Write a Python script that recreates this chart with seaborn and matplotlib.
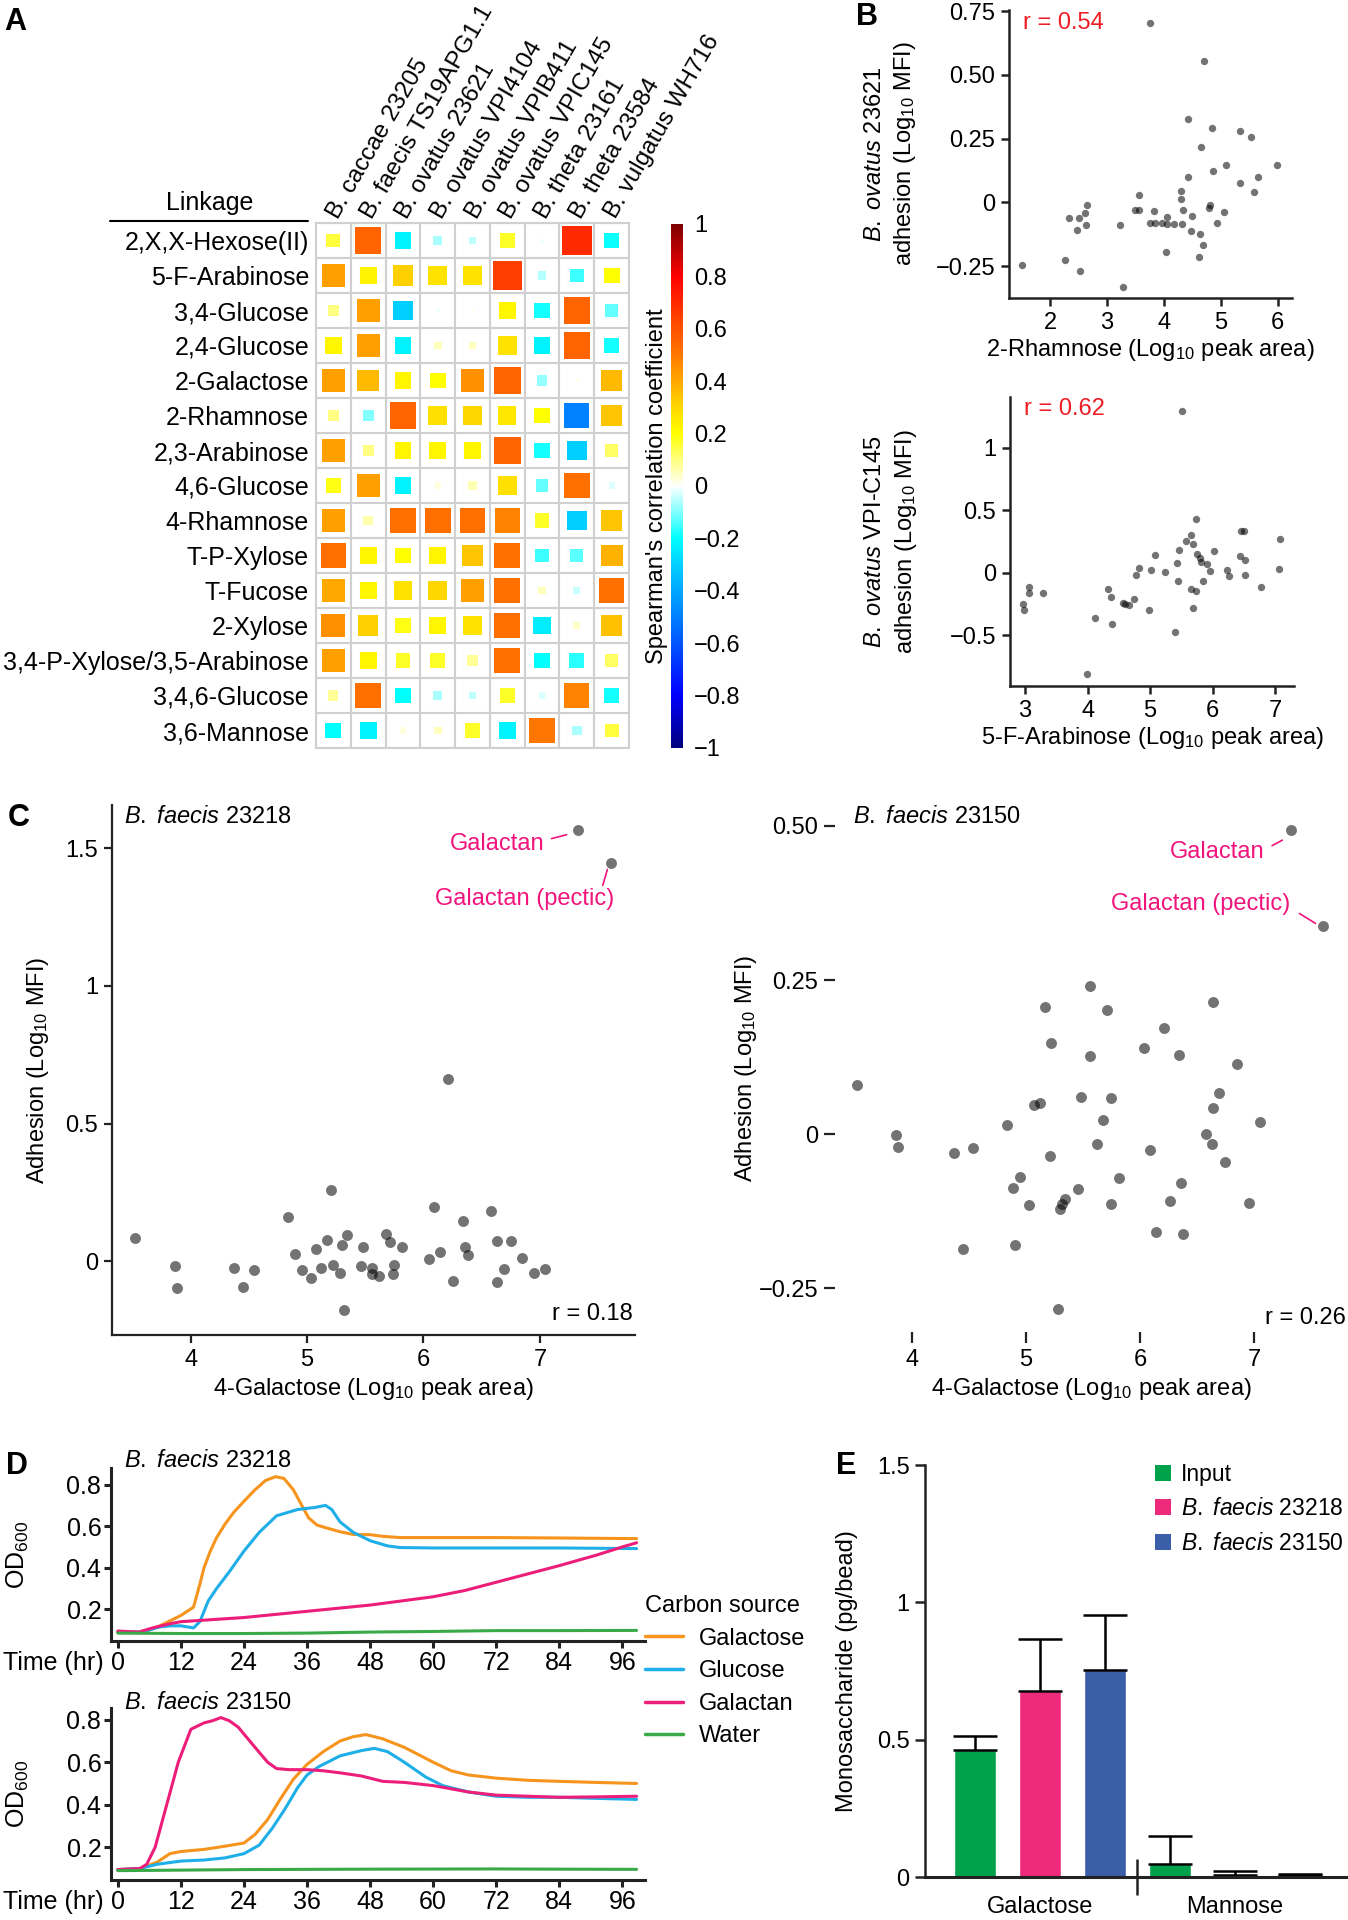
import numpy as np
import pandas as pd
import matplotlib
matplotlib.use("Agg")
import matplotlib.pyplot as plt
import seaborn as sns
from matplotlib.colors import LinearSegmentedColormap, Normalize
from matplotlib.lines import Line2D
from matplotlib.patches import Patch
import matplotlib.colorbar as mcolorbar

# ---------------- data: panel A ----------------
strains = ["B. caccae 23205", "B. faecis TS19APG1.1", "B. ovatus 23621", "B. ovatus VPI4104",
           "B. ovatus VPIB411", "B. ovatus VPIC145", "B. theta 23161", "B. theta 23584",
           "B. vulgatus WH716"]
linkages = ["2,X,X-Hexose(II)", "5-F-Arabinose", "3,4-Glucose", "2,4-Glucose", "2-Galactose",
            "2-Rhamnose", "2,3-Arabinose", "4,6-Glucose", "4-Rhamnose", "T-P-Xylose", "T-Fucose",
            "2-Xylose", "3,4-P-Xylose/3,5-Arabinose", "3,4,6-Glucose", "3,6-Mannose"]
spearman = [
    [0.15, 0.55, -0.22, -0.07, -0.05, 0.17, -0.01, 0.70, -0.19],
    [0.42, 0.23, 0.32, 0.27, 0.27, 0.65, -0.06, -0.15, 0.20],
    [0.10, 0.42, -0.30, -0.01, 0.01, 0.22, -0.18, 0.55, -0.12],
    [0.22, 0.42, -0.22, 0.05, 0.05, 0.27, -0.22, 0.55, -0.18],
    [0.42, 0.36, 0.22, 0.20, 0.45, 0.55, -0.08, 0.01, 0.36],
    [0.10, -0.10, 0.55, 0.28, 0.30, 0.26, 0.20, -0.50, 0.34],
    [0.42, 0.10, 0.22, 0.22, 0.22, 0.55, -0.18, -0.30, 0.12],
    [0.18, 0.42, -0.22, 0.03, 0.06, 0.28, -0.12, 0.52, -0.03],
    [0.42, 0.07, 0.52, 0.52, 0.52, 0.48, 0.17, -0.30, 0.34],
    [0.52, 0.22, 0.20, 0.22, 0.34, 0.52, -0.15, -0.13, 0.38],
    [0.40, 0.22, 0.27, 0.30, 0.42, 0.52, 0.05, -0.04, 0.52],
    [0.45, 0.32, 0.18, 0.22, 0.27, 0.52, -0.24, 0.04, 0.35],
    [0.42, 0.22, 0.17, 0.17, 0.08, 0.52, -0.20, -0.17, 0.12],
    [0.08, 0.52, -0.20, -0.07, -0.05, 0.17, -0.03, 0.48, -0.18],
    [-0.20, -0.22, 0.03, 0.05, 0.17, -0.22, 0.50, -0.07, 0.15],
]
cb_ticks = [-1, -0.8, -0.6, -0.4, -0.2, 0, 0.2, 0.4, 0.6, 0.8, 1]
cb_ticklabels = ["\u22121", "\u22120.8", "\u22120.6", "\u22120.4", "\u22120.2", "0",
                 "0.2", "0.4", "0.6", "0.8", "1"]

# ---------------- data: panel B ----------------
b1_x = [1.50, 3.75, 4.70, 4.43, 4.85, 5.34, 5.53, 4.66, 5.09, 5.99, 4.87, 4.42, 5.33, 5.65, 5.58,
        4.30, 3.57, 4.30, 4.81, 4.80, 2.65, 2.62, 2.34, 2.51, 2.47, 2.64, 3.23, 3.50, 3.57, 3.82,
        3.75, 3.84, 3.96, 4.05, 4.06, 4.18, 4.32, 4.33, 4.50, 4.48, 4.63, 4.69, 4.61, 4.03, 4.94,
        5.05, 2.27, 2.53, 3.29]
b1_y = [-0.245, 0.703, 0.556, 0.327, 0.291, 0.281, 0.255, 0.217, 0.148, 0.148, 0.122, 0.099, 0.077,
        0.099, 0.042, 0.045, 0.029, 0.014, -0.012, -0.020, -0.012, -0.043, -0.060, -0.060, -0.110,
        -0.090, -0.089, -0.031, -0.029, -0.035, -0.080, -0.081, -0.080, -0.056, -0.085, -0.084,
        -0.084, -0.031, -0.055, -0.114, -0.122, -0.168, -0.216, -0.196, -0.081, -0.037, -0.224,
        -0.268, -0.330]
b2_x = [5.51, 5.74, 6.50, 6.46, 5.65, 5.57, 5.69, 7.08, 5.46, 5.08, 6.02, 5.75, 6.44, 5.79, 5.81,
        5.91, 6.51, 5.43, 5.95, 6.23, 6.26, 6.51, 7.06, 4.82, 4.77, 5.01, 5.23, 5.44, 5.84, 5.65,
        5.73, 6.77, 5.69, 4.32, 4.37, 4.57, 4.60, 4.67, 4.75, 4.98, 4.12, 4.39, 5.40, 3.99, 2.96,
        2.98, 3.07, 3.06, 3.29]
b2_y = [1.29, 0.426, 0.335, 0.330, 0.298, 0.255, 0.234, 0.266, 0.184, 0.141, 0.173, 0.149, 0.133,
        0.122, 0.088, 0.067, 0.101, 0.082, 0.011, 0.019, -0.024, -0.016, 0.029, 0.035, -0.016,
        0.021, 0.005, -0.069, -0.069, -0.133, -0.144, -0.114, -0.282, -0.130, -0.194, -0.239,
        -0.247, -0.255, -0.213, -0.295, -0.362, -0.407, -0.471, -0.806, -0.253, -0.295, -0.114,
        -0.160, -0.160]

# ---------------- data: panel C ----------------
c1_x = [7.324, 7.607, 6.21, 5.21, 4.834, 6.09, 6.58, 6.34, 3.525, 5.17, 5.34, 5.68, 5.71, 5.30,
        5.48, 5.82, 5.08, 4.90, 6.14, 6.36, 6.38, 6.63, 6.75, 6.05, 6.85, 3.87, 4.37, 4.545, 4.96,
        5.12, 5.22, 5.46, 5.56, 5.75, 6.69, 7.04, 5.03, 5.28, 5.56, 5.62, 5.74, 6.95, 6.25, 6.63,
        3.88, 4.45, 5.32]
c1_y = [1.567, 1.448, 0.663, 0.26, 0.16, 0.196, 0.182, 0.146, 0.083, 0.078, 0.096, 0.099, 0.068,
        0.058, 0.050, 0.051, 0.043, 0.026, 0.035, 0.051, 0.021, 0.074, 0.074, 0.007, 0.013, -0.017,
        -0.025, -0.031, -0.031, -0.025, -0.014, -0.019, -0.024, -0.015, -0.028, -0.029, -0.061,
        -0.042, -0.047, -0.053, -0.046, -0.044, -0.071, -0.076, -0.096, -0.093, -0.179]
c2_x = [7.328, 7.609, 5.56, 6.64, 5.17, 5.71, 6.21, 5.22, 6.04, 5.56, 6.34, 6.85, 3.52, 5.48, 5.75,
        6.69, 5.07, 5.12, 6.64, 5.68, 7.05, 4.83, 3.86, 6.58, 3.88, 4.37, 4.54, 5.62, 6.09, 6.63,
        5.21, 6.75, 4.95, 4.89, 5.82, 6.36, 5.46, 5.34, 5.32, 5.30, 5.03, 5.75, 6.26, 6.96, 6.14,
        6.38, 4.90, 4.45, 5.28]
c2_y = [0.494, 0.338, 0.241, 0.215, 0.206, 0.202, 0.173, 0.148, 0.139, 0.126, 0.128, 0.113, 0.080,
        0.061, 0.059, 0.066, 0.048, 0.051, 0.043, 0.023, 0.020, 0.015, -0.001, 0.001, -0.021,
        -0.030, -0.022, -0.016, -0.025, -0.016, -0.035, -0.045, -0.070, -0.087, -0.071, -0.079,
        -0.089, -0.105, -0.113, -0.121, -0.115, -0.113, -0.108, -0.112, -0.158, -0.162, -0.180,
        -0.186, -0.284]

# ---------------- data: panel D ----------------
sources = ["Galactose", "Glucose", "Galactan", "Water"]
d1_galactose_t = [0, 4, 6, 8, 10, 12, 14.4, 15.6, 16.4, 17.6, 18.8, 20.4, 22, 24, 26.1, 28.1, 30,
                  31.6, 33.4, 35, 36.3, 37.9, 39.9, 42.3, 44.8, 48, 50.4, 53.7, 60, 72, 84, 98.7]
d1_galactose_od = [0.09, 0.09, 0.10, 0.12, 0.145, 0.17, 0.21, 0.32, 0.40, 0.48, 0.545, 0.61,
                   0.665, 0.72, 0.775, 0.82, 0.838, 0.83, 0.775, 0.70, 0.64, 0.605, 0.59, 0.573,
                   0.56, 0.559, 0.551, 0.545, 0.545, 0.545, 0.543, 0.54]
d1_glucose_t = [0, 4, 6, 8, 10, 12, 14.4, 15.6, 17.2, 18.8, 21.2, 24, 26.9, 30.2, 34.2, 37.5, 39.5,
                40.7, 42.3, 44.8, 48, 51.3, 53.7, 60, 72, 84, 98.7]
d1_glucose_od = [0.09, 0.09, 0.10, 0.115, 0.12, 0.12, 0.11, 0.14, 0.24, 0.30, 0.38, 0.48, 0.57,
                 0.65, 0.68, 0.69, 0.70, 0.68, 0.62, 0.57, 0.53, 0.505, 0.497, 0.495, 0.495,
                 0.495, 0.492]
d1_galactan_t = [0, 4, 6.6, 9.9, 12, 18, 24, 30, 36, 42, 48, 54, 60, 66, 72, 78, 84, 91, 96, 98.7]
d1_galactan_od = [0.095, 0.09, 0.11, 0.13, 0.14, 0.15, 0.16, 0.175, 0.19, 0.205, 0.22, 0.24, 0.26,
                  0.29, 0.33, 0.37, 0.41, 0.46, 0.50, 0.52]
d1_water_t = [0, 12, 24, 36, 48, 60, 72, 84, 98.7]
d1_water_od = [0.085, 0.083, 0.083, 0.085, 0.09, 0.093, 0.097, 0.097, 0.098]

d2_galactose_t = [0, 4.2, 7.5, 9.9, 12, 16.4, 20.4, 24, 26.1, 28.5, 31, 33.4, 36, 39.1, 42.3, 44.8,
                  47.2, 50.4, 54.5, 60, 63.4, 66.7, 72, 78, 84, 91, 98.7]
d2_galactose_od = [0.095, 0.10, 0.13, 0.17, 0.18, 0.19, 0.205, 0.22, 0.26, 0.33, 0.43, 0.52, 0.59,
                   0.65, 0.70, 0.72, 0.73, 0.71, 0.67, 0.60, 0.56, 0.54, 0.525, 0.515, 0.51, 0.505,
                   0.50]
d2_glucose_t = [0, 4.2, 7.5, 12, 16.4, 20.4, 24, 26.9, 29.4, 31.8, 34.2, 36, 38.3, 42.3, 46.4, 48.8,
                51.3, 54.5, 58.6, 61.8, 66.7, 72, 78, 84, 91, 98.7]
d2_glucose_od = [0.095, 0.10, 0.12, 0.135, 0.14, 0.15, 0.17, 0.21, 0.29, 0.38, 0.48, 0.54, 0.58,
                 0.63, 0.655, 0.665, 0.65, 0.60, 0.53, 0.49, 0.46, 0.44, 0.435, 0.435, 0.43, 0.425]
d2_galactan_t = [0, 4.2, 5.5, 7.1, 9.3, 11.5, 13.9, 16.4, 18, 19.6, 21.2, 22.9, 26.1, 28.5, 30.2,
                 32.6, 36, 39, 42.3, 46.4, 50.4, 54.5, 60, 63.4, 66.7, 72, 78, 84, 91, 98.7]
d2_galactan_od = [0.095, 0.10, 0.12, 0.20, 0.40, 0.60, 0.755, 0.785, 0.795, 0.81, 0.795, 0.765,
                  0.67, 0.60, 0.57, 0.565, 0.565, 0.56, 0.55, 0.535, 0.51, 0.505, 0.49, 0.475,
                  0.46, 0.445, 0.44, 0.435, 0.437, 0.44]
d2_water_t = [0, 24, 48, 72, 84, 98.7]
d2_water_od = [0.09, 0.095, 0.097, 0.098, 0.097, 0.096]
d_xticks = [0, 12, 24, 36, 48, 60, 72, 84, 96]
d_yticks = [0.2, 0.4, 0.6, 0.8]

# ---------------- data: panel E ----------------
e_sugar = ["Galactose", "Galactose", "Galactose", "Mannose", "Mannose", "Mannose"]
e_sample = ["Input", "B. faecis 23218", "B. faecis 23150"] * 2
e_mean = [0.463, 0.679, 0.754, 0.046, 0.008, 0.006]
e_err = [0.051, 0.186, 0.201, 0.102, 0.015, 0.004]

# ---------------- style ----------------
sns.set_theme(style="ticks")
plt.rcParams.update({
    "font.family": ["Liberation Sans", "DejaVu Sans"],
    "mathtext.fontset": "custom",
    "mathtext.rm": "Liberation Sans",
    "mathtext.it": "Liberation Sans:italic",
    "mathtext.bf": "Liberation Sans:bold",
    "axes.edgecolor": "#222222",
    "text.color": "black",
    "axes.labelcolor": "black",
    "xtick.color": "#222222",
    "ytick.color": "#222222",
    "xtick.labelcolor": "black",
    "ytick.labelcolor": "black",
})
FS = 17
PINK_TXT = "#f0147c"
NARROW = ["Liberation Sans Narrow", "Liberation Sans", "DejaVu Sans"]

W, H = 1348, 1920
fig = plt.figure(figsize=(W / 100, H / 100), dpi=100)


def rect(l, t, r, b):
    return [l / W, 1 - b / H, (r - l) / W, (b - t) / H]


def fx(px):
    return px / W


def fy(py):
    return 1 - py / H


def style_axis(ax, lw=1.8, tl=6, fs=16, pad=4):
    sns.despine(ax=ax)
    for s in ["left", "bottom"]:
        ax.spines[s].set_linewidth(lw)
    ax.tick_params(direction="out", length=tl, width=lw, labelsize=fs, pad=pad)


# ================= Panel A =================
cmap = LinearSegmentedColormap.from_list("spearman", [
    (0.00, "#00007F"), (0.10, "#0000FF"), (0.25, "#0080FF"), (0.35, "#00D0FF"),
    (0.40, "#00FFFF"), (0.50, "#FFFFFF"), (0.60, "#FFFF00"), (0.65, "#FFD800"),
    (0.71, "#FFA000"), (0.76, "#FF7000"), (0.825, "#FF4000"), (0.90, "#FF0000"),
    (1.00, "#7F0000")])

hm = pd.DataFrame(spearman, index=linkages, columns=strains)
long = hm.reset_index().melt(id_vars="index", var_name="strain", value_name="rho")
long["xi"] = long["strain"].map({s: i for i, s in enumerate(strains)})
long["yi"] = long["index"].map({s: i for i, s in enumerate(linkages)})
long["mag"] = long["rho"].abs()

axA = fig.add_axes(rect(316, 223, 629, 748))
sns.scatterplot(data=long, x="xi", y="yi", hue="rho", palette=cmap, hue_norm=(-1, 1),
                size="mag", sizes=(0, 660), size_norm=(0, 1), marker="s", linewidth=0,
                legend=False, ax=axA, zorder=3)
axA.set_xlim(-0.5, len(strains) - 0.5)
axA.set_ylim(len(linkages) - 0.5, -0.5)
axA.set_xticks(np.arange(-0.5, len(strains), 1), minor=True)
axA.set_yticks(np.arange(-0.5, len(linkages), 1), minor=True)
axA.set_xticks([])
axA.set_yticks(range(len(linkages)))
axA.set_yticklabels(linkages, fontsize=18)
axA.grid(True, which="minor", color="#d0d0d0", lw=1.5)
axA.grid(False, which="major")
axA.set_axisbelow(True)
axA.tick_params(which="both", length=0, pad=5)
axA.set_xlabel("")
axA.set_ylabel("")
for s in axA.spines.values():
    s.set_color("#d0d0d0")
    s.set_linewidth(1.5)
for j, s in enumerate(strains):
    axA.text(j + 0.12, -0.6, s, rotation=60, rotation_mode="anchor", ha="left",
             va="baseline", fontsize=17.5, clip_on=False)

fig.text(fx(210), fy(203), "Linkage", ha="center", va="center", fontsize=18)
fig.add_artist(Line2D([fx(110), fx(308)], [fy(221), fy(221)], transform=fig.transFigure,
                      color="black", lw=1.5))

axCB = fig.add_axes(rect(671, 224, 683, 748))
cb = mcolorbar.ColorbarBase(axCB, cmap=cmap, norm=Normalize(-1, 1), ticks=cb_ticks)
cb.set_ticklabels(cb_ticklabels)
cb.outline.set_visible(False)
axCB.tick_params(length=0, labelsize=FS, pad=8)
cb.set_label("Spearman's correlation coefficient", fontsize=FS, labelpad=2)
axCB.yaxis.set_label_position("left")

fig.text(fx(4), fy(22), "A", fontsize=22, fontweight="bold", va="center", ha="left")

# ================= Panel B =================
axB1 = fig.add_axes(rect(1009, 10, 1292, 298))
sns.scatterplot(x=b1_x, y=b1_y, color="black", alpha=0.55, s=28, linewidth=0, ax=axB1)
axB1.set_xlim(1.28, 6.25)
axB1.set_ylim(-0.375, 0.755)
axB1.set_xticks([2, 3, 4, 5, 6])
axB1.set_yticks([-0.25, 0, 0.25, 0.5, 0.75])
axB1.set_yticklabels(["\u22120.25", "0", "0.25", "0.50", "0.75"])
style_axis(axB1, fs=17)
axB1.set_xlabel(r"2-Rhamnose (Log$_{10}$ peak area)", fontsize=FS, labelpad=2)
axB1.set_ylabel(r"$\mathit{B.\ ovatus}$ 23621" + "\n" + r"adhesion (Log$_{10}$ MFI)",
                fontsize=FS, linespacing=1.35)
axB1.yaxis.set_label_coords(-0.32, 0.5)
axB1.text(0.05, 0.955, "r = 0.54", color="#ee1c25", fontsize=FS, transform=axB1.transAxes,
          ha="left", va="center")

axB2 = fig.add_axes(rect(1010, 397, 1294, 686))
sns.scatterplot(x=b2_x, y=b2_y, color="black", alpha=0.55, s=28, linewidth=0, ax=axB2)
axB2.set_xlim(2.76, 7.30)
axB2.set_ylim(-0.904, 1.404)
axB2.set_xticks([3, 4, 5, 6, 7])
axB2.set_yticks([-0.5, 0, 0.5, 1])
axB2.set_yticklabels(["\u22120.5", "0", "0.5", "1"])
style_axis(axB2, fs=17)
axB2.set_xlabel(r"5-F-Arabinose (Log$_{10}$ peak area)", fontsize=FS, labelpad=2)
axB2.set_ylabel(r"$\mathit{B.\ ovatus}$ VPI-C145" + "\n" + r"adhesion (Log$_{10}$ MFI)",
                fontsize=FS, linespacing=1.35)
axB2.yaxis.set_label_coords(-0.32, 0.5)
axB2.text(0.05, 0.96, "r = 0.62", color="#ee1c25", fontsize=FS, transform=axB2.transAxes,
          ha="left", va="center")

fig.text(fx(856), fy(17), "B", fontsize=22, fontweight="bold", va="center", ha="left")

# ================= Panel C =================
axC1 = fig.add_axes(rect(112, 805, 635, 1335))
sns.scatterplot(x=c1_x, y=c1_y, color="black", alpha=0.55, s=62, linewidth=0, ax=axC1)
axC1.set_xlim(3.325, 7.817)
axC1.set_ylim(-0.268, 1.657)
axC1.set_xticks([4, 5, 6, 7])
axC1.set_yticks([0, 0.5, 1, 1.5])
axC1.set_yticklabels(["0", "0.5", "1", "1.5"])
style_axis(axC1, lw=1.6, tl=6, fs=FS)
axC1.set_xlabel(r"4-Galactose (Log$_{10}$ peak area)", fontsize=FS, labelpad=4)
axC1.set_ylabel(r"Adhesion (Log$_{10}$ MFI)", fontsize=FS, labelpad=10)
axC1.text(0.023, 0.977, r"$\mathit{B.\ faecis}$ 23218", fontsize=FS, transform=axC1.transAxes,
          ha="left", va="center")
axC1.text(0.995, 0.04, "r = 0.18", fontsize=FS, transform=axC1.transAxes, ha="right",
          va="center")
axC1.text(6.63, 1.515, "Galactan", color=PINK_TXT, fontsize=FS, ha="center", va="center")
axC1.plot([7.10, 7.23], [1.535, 1.549], color=PINK_TXT, lw=1.2)
axC1.text(6.87, 1.314, "Galactan (pectic)", color=PINK_TXT, fontsize=FS, ha="center",
          va="center")
axC1.plot([7.54, 7.58], [1.365, 1.423], color=PINK_TXT, lw=1.2)

axC2 = fig.add_axes(rect(835, 805, 1347, 1332))
sns.scatterplot(x=c2_x, y=c2_y, color="black", alpha=0.55, s=62, linewidth=0, ax=axC2)
axC2.set_xlim(3.325, 7.817)
axC2.set_ylim(-0.321, 0.534)
axC2.set_xticks([4, 5, 6, 7])
axC2.set_yticks([-0.25, 0, 0.25, 0.5])
axC2.set_yticklabels(["\u22120.25", "0", "0.25", "0.50"])
for s in axC2.spines.values():
    s.set_visible(False)
axC2.tick_params(direction="out", length=8, width=1.6, labelsize=FS, pad=4)
axC2.set_xlabel(r"4-Galactose (Log$_{10}$ peak area)", fontsize=FS, labelpad=4)
axC2.set_ylabel(r"Adhesion (Log$_{10}$ MFI)", fontsize=FS, labelpad=0)
axC2.text(0.035, 0.977, r"$\mathit{B.\ faecis}$ 23150", fontsize=FS, transform=axC2.transAxes,
          ha="left", va="center")
axC2.text(0.997, 0.027, "r = 0.26", fontsize=FS, transform=axC2.transAxes, ha="right",
          va="center")
axC2.text(6.68, 0.457, "Galactan", color=PINK_TXT, fontsize=FS, ha="center", va="center")
axC2.plot([7.16, 7.25], [0.468, 0.477], color=PINK_TXT, lw=1.2)
axC2.text(6.53, 0.374, "Galactan (pectic)", color=PINK_TXT, fontsize=FS, ha="center",
          va="center")
axC2.plot([7.40, 7.54], [0.358, 0.342], color=PINK_TXT, lw=1.2)

fig.text(fx(8), fy(818), "C", fontsize=22, fontweight="bold", va="center", ha="left")

# ================= Panel D =================
pal_d = {"Galactose": "#f7941d", "Glucose": "#1eaee8", "Galactan": "#ec1e79", "Water": "#3aaa48"}


def curves_df(parts):
    frames = []
    for name, t, od in parts:
        frames.append(pd.DataFrame({"time": t, "od": od, "source": name}))
    return pd.concat(frames, ignore_index=True)


dfD1 = curves_df([("Galactose", d1_galactose_t, d1_galactose_od),
                  ("Glucose", d1_glucose_t, d1_glucose_od),
                  ("Galactan", d1_galactan_t, d1_galactan_od),
                  ("Water", d1_water_t, d1_water_od)])
dfD2 = curves_df([("Galactose", d2_galactose_t, d2_galactose_od),
                  ("Glucose", d2_glucose_t, d2_glucose_od),
                  ("Galactan", d2_galactan_t, d2_galactan_od),
                  ("Water", d2_water_t, d2_water_od)])

d_specs = [(dfD1, rect(111, 1468, 645, 1641), (0.047, 0.88), 1461,
            r"$\mathit{B.\ faecis}$ 23218"),
           (dfD2, rect(111, 1708, 645, 1880), (0.046, 0.855), 1703,
            r"$\mathit{B.\ faecis}$ 23150")]
for df_, rc, yl, tty, title in d_specs:
    ax = fig.add_axes(rc)
    sns.lineplot(data=df_, x="time", y="od", hue="source", hue_order=sources, palette=pal_d,
                 estimator=None, sort=False, linewidth=2.2, legend=False, ax=ax)
    ax.set_xlim(-1.3, 100.3)
    ax.set_ylim(*yl)
    ax.set_xticks(d_xticks)
    ax.set_yticks(d_yticks)
    ax.set_yticklabels([f"{v:.1f}" for v in d_yticks])
    style_axis(ax, lw=2.2, tl=5, fs=18, pad=2)
    for lbl in ax.get_xticklabels() + ax.get_yticklabels():
        lbl.set_family(NARROW)
    ax.set_xlabel("")
    ax.set_ylabel(r"OD$_{600}$", fontsize=FS + 1)
    ax.yaxis.set_label_coords(-0.150, 0.5)
    ax.annotate("Time (hr)", xy=(0, 0), xycoords="axes fraction", xytext=(-5, -7.5),
                textcoords="offset points", ha="right", va="top", fontsize=18,
                family=NARROW)
    fig.text(fx(124), fy(tty), title, ha="left", va="center", fontsize=FS)

handles = [Line2D([0], [0], color=pal_d[s], lw=2.5) for s in sources]
fig.legend(handles, sources, title="Carbon source", loc="upper left",
           bbox_to_anchor=(fx(645), fy(1595)), bbox_transform=fig.transFigure, frameon=False,
           fontsize=FS, title_fontsize=FS, handlelength=1.6, handletextpad=0.7,
           labelspacing=0.45, borderpad=0, borderaxespad=0, alignment="left")

fig.text(fx(6), fy(1466), "D", fontsize=22, fontweight="bold", va="center", ha="left")

# ================= Panel E =================
pal_e = {"Input": "#00a14b", "B. faecis 23218": "#ed2b7a", "B. faecis 23150": "#3b5ea9"}
dfE = pd.DataFrame({"sugar": e_sugar, "sample": e_sample, "mean": e_mean, "err": e_err})
dfE["slot"] = dfE["sugar"] + "|" + dfE["sample"]
axE = fig.add_axes(rect(925, 1465, 1348, 1877))
sns.barplot(data=dfE, x="slot", y="mean", hue="sample", palette=pal_e, dodge=False,
            order=list(dfE["slot"]), width=0.66, saturation=1, legend=False, ax=axE)
axE.errorbar(np.arange(len(dfE)), dfE["mean"], yerr=[np.zeros(len(dfE)), dfE["err"]],
             fmt="none", ecolor="black", elinewidth=1.8, capsize=16, capthick=1.8, zorder=1)
axE.set_xlim(-0.77, 5.74)
axE.set_ylim(0, 1.5)
axE.set_yticks([0, 0.5, 1, 1.5])
axE.set_yticklabels(["0", "0.5", "1", "1.5"])
style_axis(axE, lw=1.8, tl=7, fs=FS)
axE.spines["bottom"].set_linewidth(2.2)
axE.set_xticks([2.5])
axE.set_xticklabels([""])
axE.tick_params(axis="x", which="major", direction="inout", length=26, width=1.8)
axE.set_xticks([1, 4], minor=True)
axE.set_xticklabels(["Galactose", "Mannose"], minor=True, fontsize=FS)
axE.tick_params(axis="x", which="minor", length=0, pad=14)
axE.set_xlabel("")
axE.set_ylabel("Monosaccharide (pg/bead)", fontsize=FS, labelpad=14)
e_labels = ["Input", r"$\mathit{B.\ faecis}$ 23218", r"$\mathit{B.\ faecis}$ 23150"]
e_handles = [Patch(facecolor=pal_e[s], edgecolor="none") for s in pal_e]
fig.legend(e_handles, e_labels, loc="upper left", bbox_to_anchor=(fx(1155), fy(1463)),
           bbox_transform=fig.transFigure, frameon=False, fontsize=16.5, handlelength=0.7,
           handleheight=0.7, handletextpad=0.45, labelspacing=0.5, borderpad=0,
           borderaxespad=0)

fig.text(fx(836), fy(1466), "E", fontsize=22, fontweight="bold", va="center", ha="left")

fig.savefig("out.png", dpi=100)
